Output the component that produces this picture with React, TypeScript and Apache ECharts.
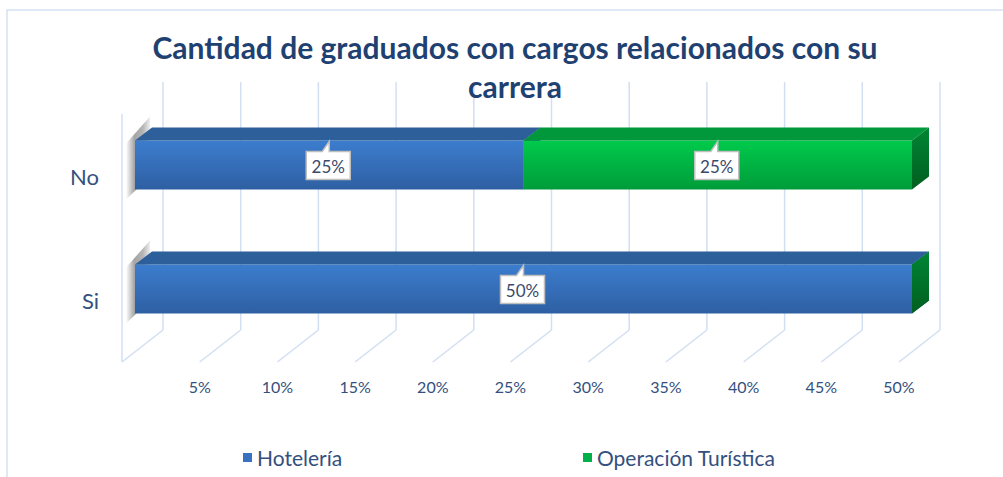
import React, { useEffect, useRef } from 'react';
import * as echarts from 'echarts';

const categories = ['Si', 'No'];
const hoteleria = [50, 25];
const turistica = [0, 25];
const seriesNames = ['Hotelería', 'Operación Turística'];
const xTicks = [0, 5, 10, 15, 20, 25, 30, 35, 40, 45, 50];
const titleText = 'Cantidad de graduados con cargos relacionados con su\ncarrera';

const FONT = 'Lato, "Open Sans", sans-serif';
const TXT = '#34507E';

const palettes = [
  {
    front: ['#3C7DCE', '#2E5FA2'],
    top: '#2D5F9A',
    side: ['#27528C', '#1F4375'],
    legend: '#3A72C2',
  },
  {
    front: ['#00CA4C', '#009C3A'],
    top: '#00983A',
    side: ['#008534', '#005F1F'],
    legend: '#00B04A',
  },
];

function segments(values: number[], base: number[]) {
  return values.map((v, i) => [i, base[i], base[i] + v]);
}

function makeBarRender(pi: number) {
  const pal = palettes[pi];
  return (params: any, api: any) => {
    const cat = api.value(0);
    const start = api.value(1);
    const end = api.value(2);
    const p0 = api.coord([start, cat]);
    const p1 = api.coord([end, cat]);
    const fx0 = p0[0] + 13;
    const fx1 = p1[0] + 13;
    const cy = p0[1] - 11;
    const h = 49;
    const top = cy - h / 2;
    const bot = cy + h / 2;
    const dx = 17;
    const dy = -13;
    const children: any[] = [];
    if (start === 0) {
      children.push({
        type: 'polygon',
        shape: {
          points: [
            [fx0 - 9, top + 3],
            [fx0 + dx - 2, top + dy - 11],
            [fx0 + dx - 2, bot + dy],
            [fx0 - 9, bot + 10],
          ],
        },
        style: {
          fill: new echarts.graphic.LinearGradient(0, 0, 1, 0, [
            { offset: 0, color: 'rgba(90,90,90,0)' },
            { offset: 0.35, color: 'rgba(90,90,90,0.55)' },
            { offset: 0.7, color: 'rgba(90,90,90,0.45)' },
            { offset: 1, color: 'rgba(90,90,90,0.1)' },
          ]),
        },
      });
    }
    children.push({
      type: 'rect',
      shape: { x: fx0, y: top, width: fx1 - fx0, height: h },
      style: {
        fill: new echarts.graphic.LinearGradient(0, 0, 0, 1, [
          { offset: 0, color: pal.front[0] },
          { offset: 1, color: pal.front[1] },
        ]),
      },
    });
    children.push({
      type: 'polygon',
      shape: { points: [[fx0, top], [fx0 + dx, top + dy], [fx1 + dx, top + dy], [fx1, top]] },
      style: { fill: pal.top },
    });
    children.push({
      type: 'polygon',
      shape: { points: [[fx1, top], [fx1 + dx, top + dy], [fx1 + dx, bot + dy], [fx1, bot]] },
      style: {
        fill: new echarts.graphic.LinearGradient(0, 0, 0, 1, [
          { offset: 0, color: pal.side[0] },
          { offset: 1, color: pal.side[1] },
        ]),
      },
    });
    const val = end - start;
    if (val > 0) {
      const cx = (fx0 + fx1) / 2 - 1;
      const bw = 44;
      const bh = 28;
      const bx0 = cx - bw / 2;
      const bx1 = cx + bw / 2;
      const by0 = cy - bh / 2 + 0.5;
      const by1 = by0 + bh;
      children.push({
        type: 'polygon',
        shape: {
          points: [
            [bx0, by0],
            [cx - 6, by0],
            [cx + 1, top + 1],
            [cx + 1, by0],
            [bx1, by0],
            [bx1, by1],
            [bx0, by1],
          ],
        },
        style: { fill: '#FFFFFF', stroke: '#BFBFBF', lineWidth: 1.5 },
      });
      children.push({
        type: 'text',
        style: {
          text: `${val}%`,
          x: cx,
          y: (by0 + by1) / 2 + 1,
          fill: '#3B4A6B',
          fontSize: 17,
          fontFamily: FONT,
          align: 'center',
          verticalAlign: 'middle',
        },
      });
    }
    return { type: 'group', children };
  };
}

function wallRender(params: any, api: any) {
  const t = api.value(0);
  const x = api.coord([t, 0])[0];
  const cs = params.coordSys;
  const yTop = cs.y;
  const yBot = cs.y + cs.height;
  const bx = x + 41;
  const lineStyle = { stroke: '#D2DFF2', lineWidth: 1.5 };
  const children: any[] = [
    { type: 'line', shape: { x1: bx, y1: yTop - 32, x2: bx, y2: yBot - 32 }, style: lineStyle },
    { type: 'line', shape: { x1: bx, y1: yBot - 32, x2: x, y2: yBot }, style: lineStyle },
  ];
  if (t === 0) {
    children.push({ type: 'line', shape: { x1: x, y1: yTop, x2: x, y2: yBot }, style: lineStyle });
  }
  return { type: 'group', children };
}

export default function App() {
  const ref = useRef<HTMLDivElement>(null);
  useEffect(() => {
    if (!ref.current) return;
    const chart = echarts.init(ref.current, undefined, { renderer: 'svg' });
    const option: any = {
      animation: false,
      backgroundColor: '#FFFFFF',
      graphic: [
        {
          type: 'rect',
          silent: true,
          z: -10,
          shape: { x: 7, y: 10, width: 1400, height: 900 },
          style: { fill: 'none', stroke: '#D5E1F1', lineWidth: 1.5 },
        },
      ],
      title: {
        text: titleText,
        left: 510,
        textAlign: 'center',
        top: 22,
        textStyle: {
          fontFamily: FONT,
          fontSize: 30,
          fontWeight: 'bold',
          color: '#1F4172',
          lineHeight: 39,
        },
      },
      legend: [
        {
          data: [seriesNames[0]],
          left: 238,
          top: 442,
          icon: 'rect',
          itemWidth: 9,
          itemHeight: 9,
          itemGap: 5,
          textStyle: { fontFamily: FONT, fontSize: 21, color: TXT },
          selectedMode: false,
        },
        {
          data: [seriesNames[1]],
          left: 578,
          top: 442,
          icon: 'rect',
          itemWidth: 9,
          itemHeight: 9,
          textStyle: { fontFamily: FONT, fontSize: 21, color: TXT },
          selectedMode: false,
        },
      ],
      grid: { left: 122, right: 104, top: 114, bottom: 115, containLabel: false },
      xAxis: {
        type: 'value',
        min: 0,
        max: 50,
        interval: 5,
        axisLine: { show: false },
        axisTick: { show: false },
        splitLine: { show: false },
        axisLabel: {
          formatter: (v: number) => (v === 0 ? '' : `${v}%`),
          fontFamily: FONT,
          fontSize: 16,
          color: TXT,
          margin: 16,
        },
      },
      yAxis: {
        type: 'category',
        data: categories,
        axisLine: { show: false },
        axisTick: { show: false },
        splitLine: { show: false },
        axisLabel: { fontFamily: FONT, fontSize: 22, color: TXT, margin: 23 },
      },
      series: [
        {
          type: 'custom',
          name: '_wall',
          silent: true,
          renderItem: wallRender,
          data: xTicks.map((t) => [t, 0]),
          encode: { x: 0, y: 1 },
          z: 1,
        },
        {
          type: 'custom',
          name: seriesNames[0],
          renderItem: makeBarRender(0),
          data: segments(hoteleria, [0, 0]),
          encode: { x: [1, 2], y: 0 },
          itemStyle: { color: palettes[0].legend },
          z: 2,
        },
        {
          type: 'custom',
          name: seriesNames[1],
          renderItem: makeBarRender(1),
          data: segments(turistica, hoteleria),
          encode: { x: [1, 2], y: 0 },
          itemStyle: { color: palettes[1].legend },
          z: 3,
        },
      ],
    };
    chart.setOption(option);
    return () => chart.dispose();
  }, []);
  return (
    <div
      ref={ref}
      style={{ position: 'fixed', left: 0, top: 0, width: 1003, height: 477 }}
    />
  );
}
